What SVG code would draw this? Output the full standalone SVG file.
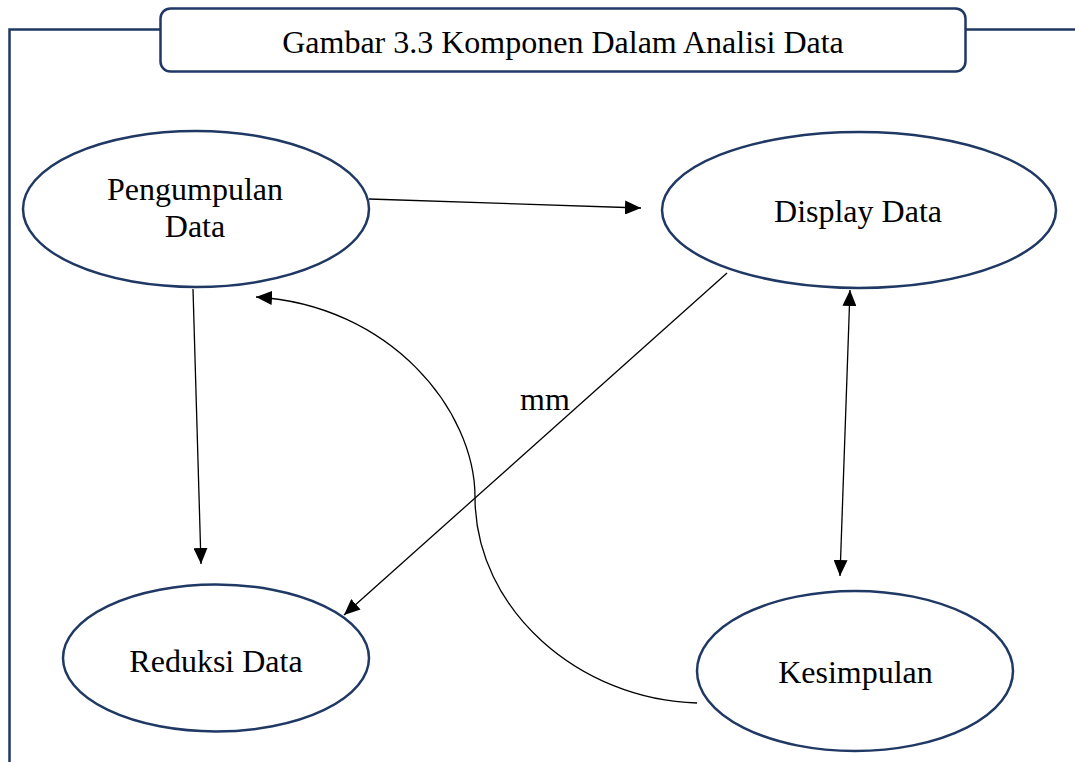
<svg xmlns="http://www.w3.org/2000/svg" width="1075" height="762" viewBox="0 0 1075 762">
<style>
.frame{fill:none;stroke:#1F3864;stroke-width:2.5}
.node{fill:#fff;stroke:#1F3864;stroke-width:2.5}
.lbl{font-family:"Liberation Serif","Times New Roman",serif;font-size:32px;fill:#000;text-anchor:middle}
.conn{fill:none;stroke:#000;stroke-width:1.3}
</style>
<defs>
<marker id="ah" markerUnits="userSpaceOnUse" markerWidth="17" markerHeight="14" refX="16" refY="7" orient="auto-start-reverse" viewBox="0 0 17 14">
<path d="M0,0 L16,7 L0,14 z" fill="#000"/>
</marker>
</defs>
<rect width="1075" height="762" fill="#fff"/>
<g id="frame">
<path class="frame" d="M9.5,762 L9.5,29.5 L160.5,29.5 M965.5,29.5 L1075,29.5"/>
</g>
<g id="title">
<rect class="frame" x="160.5" y="8.5" width="805" height="63" rx="10"/>
<text class="lbl" x="563" y="53">Gambar 3.3 Komponen Dalam Analisi Data</text>
</g>
<g id="connectors">
<line class="conn" x1="369" y1="199" x2="641" y2="208" marker-end="url(#ah)"/>
<line class="conn" x1="193" y1="289" x2="201" y2="564" marker-end="url(#ah)"/>
<line class="conn" x1="727" y1="273" x2="344" y2="615" marker-end="url(#ah)"/>
<line class="conn" x1="850" y1="290" x2="840" y2="576" marker-start="url(#ah)" marker-end="url(#ah)"/>
<path class="conn" d="M697,703 C580,700 475,610 475,497 C475,410 390,305 256,297" marker-end="url(#ah)"/>
<text class="lbl" x="545" y="410">mm</text>
</g>
<g id="pengumpulan">
<ellipse class="node" cx="196" cy="209" rx="173" ry="78"/>
<text class="lbl" x="195" y="200">Pengumpulan</text>
<text class="lbl" x="195" y="237">Data</text>
</g>
<g id="display">
<ellipse class="node" cx="859" cy="210" rx="197" ry="78"/>
<text class="lbl" x="858" y="222">Display Data</text>
</g>
<g id="reduksi">
<ellipse class="node" cx="216" cy="658" rx="153" ry="73.5"/>
<text class="lbl" x="216" y="672">Reduksi Data</text>
</g>
<g id="kesimpulan">
<ellipse class="node" cx="855" cy="671" rx="158" ry="80"/>
<text class="lbl" x="855.5" y="683">Kesimpulan</text>
</g>
</svg>
